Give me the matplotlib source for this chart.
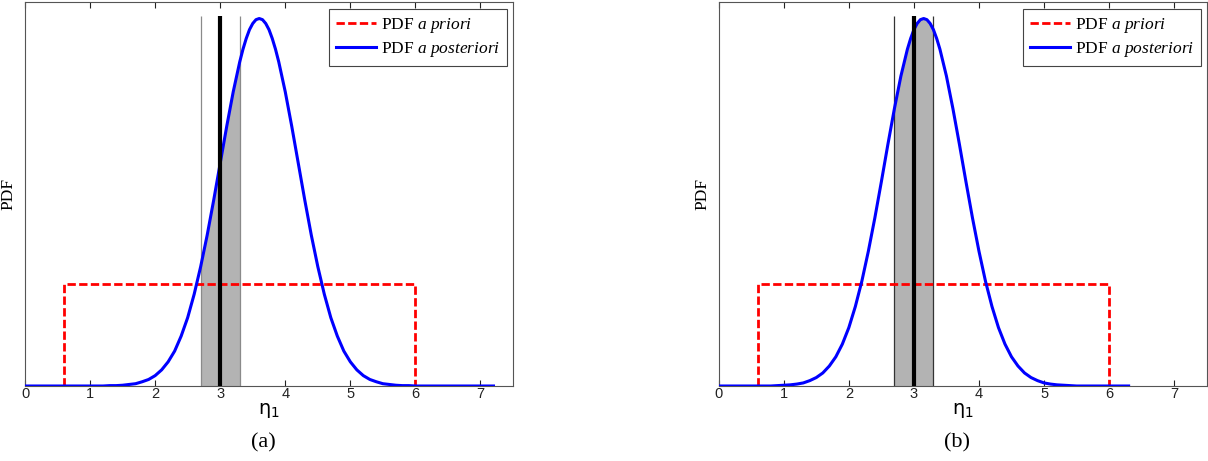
#!/usr/bin/env python3
"""Prior / posterior PDF comparison, panels (a) and (b)"""

import numpy as np
import matplotlib
matplotlib.use("Agg")
import matplotlib.pyplot as plt

plt.rcParams["mathtext.fontset"] = "custom"
plt.rcParams["mathtext.it"] = "Liberation Serif:italic"
plt.rcParams["mathtext.rm"] = "Liberation Serif"

# uniform prior
prior_x = [0.6, 0.6, 6.0, 6.0]
prior_y = [0.0, 0.266, 0.266, 0.0]

# panel (a) posterior
post_a_x = [0.0, 1.2, 1.3, 1.4, 1.5, 1.6, 1.7, 1.8, 1.9, 2.0, 2.1, 2.2, 2.3, 2.4,
            2.5, 2.6, 2.7, 2.8, 2.9, 3.0, 3.1, 3.2, 3.3, 3.35, 3.4, 3.45, 3.5,
            3.55, 3.6, 3.65, 3.7, 3.75, 3.8, 3.85, 3.9, 4.0, 4.1, 4.2, 4.3,
            4.4, 4.5, 4.6, 4.7, 4.8, 4.9, 5.0, 5.1, 5.2, 5.3, 5.4, 5.5, 5.6,
            5.7, 5.8, 5.9, 6.0, 7.2]
post_a_y = [0.0, 0.0, 0.001, 0.001, 0.002, 0.004, 0.006, 0.011, 0.017, 0.027,
            0.042, 0.063, 0.091, 0.130, 0.178, 0.239, 0.311, 0.393, 0.484,
            0.580, 0.676, 0.766, 0.844, 0.877, 0.905, 0.928, 0.944, 0.954,
            0.957, 0.954, 0.944, 0.928, 0.905, 0.877, 0.844, 0.766, 0.676,
            0.580, 0.484, 0.393, 0.311, 0.239, 0.178, 0.130, 0.091, 0.063,
            0.042, 0.027, 0.017, 0.011, 0.006, 0.004, 0.002, 0.001, 0.001,
            0.0, 0.0]

# panel (b) posterior
post_b_x = [0.0, 0.8, 0.9, 1.0, 1.1, 1.2, 1.3, 1.4, 1.5, 1.6, 1.7, 1.8, 1.9,
            2.0, 2.1, 2.2, 2.3, 2.4, 2.5, 2.6, 2.7, 2.8, 2.9, 2.95, 3.0, 3.05,
            3.1, 3.15, 3.2, 3.25, 3.3, 3.35, 3.4, 3.5, 3.6, 3.7, 3.8, 3.9,
            4.0, 4.1, 4.2, 4.3, 4.4, 4.5, 4.6, 4.7, 4.8, 4.9, 5.0, 5.1, 5.2,
            5.3, 5.4, 5.5, 6.3]
post_b_y = [0.0, 0.0, 0.001, 0.002, 0.003, 0.005, 0.008, 0.014, 0.022, 0.034,
            0.052, 0.076, 0.109, 0.152, 0.207, 0.273, 0.351, 0.438, 0.532,
            0.629, 0.722, 0.807, 0.877, 0.905, 0.928, 0.944, 0.954, 0.957,
            0.954, 0.944, 0.928, 0.905, 0.877, 0.807, 0.722, 0.629, 0.532,
            0.438, 0.351, 0.273, 0.207, 0.152, 0.109, 0.076, 0.052, 0.034,
            0.022, 0.014, 0.008, 0.005, 0.003, 0.002, 0.001, 0.0, 0.0]

ci_low, ci_mid, ci_high = 2.7, 3.0, 3.3
line_top = 0.964

panels = [
    ("(a)", post_a_x, post_a_y, "#8a8a8a"),
    ("(b)", post_b_x, post_b_y, "#333333"),
]

fig = plt.figure(figsize=(12.08, 4.61), dpi=100)
axes_rects = [
    [25 / 1208, 75 / 461, 488 / 1208, 384 / 461],
    [718.7 / 1208, 75 / 461, 488 / 1208, 384 / 461],
]

for rect, (tag, px, py, thin_col) in zip(axes_rects, panels):
    ax = fig.add_axes(rect)
    px = np.array(px)
    py = np.array(py)

    # shaded interval under the posterior
    m = (px >= ci_low - 1e-9) & (px <= ci_high + 1e-9)
    ax.fill_between(px[m], 0, py[m], color="#b3b3b3", lw=0, zorder=1)
    ax.vlines([ci_low, ci_high], 0, line_top, color=thin_col, lw=0.9, zorder=2)

    ax.plot(prior_x, prior_y, color="red", lw=2.0, ls=(0, (3, 1.2)),
            label="PDF $\\mathit{a\\ priori}$", zorder=3)
    ax.plot(px, py, color="blue", lw=2.2,
            label="PDF $\\mathit{a\\ posteriori}$", zorder=4)
    ax.vlines([ci_mid], 0, line_top, color="black", lw=3.0, zorder=5)

    ax.set_xlim(0, 7.5)
    ax.set_ylim(0, 1.0)
    ax.set_xticks(range(8))
    ax.set_yticks([])
    ax.tick_params(axis="x", direction="in", length=4, width=0.8, pad=1,
                   top=True, labelsize=10.5, colors="#222222")
    for lab in ax.get_xticklabels():
        lab.set_family("Liberation Sans")
    for s in ax.spines.values():
        s.set_linewidth(0.8)
        s.set_color("#555555")

    ax.set_xlabel("$\\mathregular{\\eta_1}$", family="DejaVu Sans",
                  math_fontfamily="dejavusans", fontsize=14, labelpad=0)
    ax.set_ylabel("PDF", family="Liberation Serif", fontsize=12.5)
    ax.yaxis.set_label_coords(-0.017, 0.5)

    leg = ax.legend(loc="upper right", bbox_to_anchor=(0.988, 0.982),
                    borderaxespad=0, fancybox=False, framealpha=1,
                    edgecolor="#444444", handlelength=2.3, handletextpad=0.3,
                    labelspacing=0.3, borderpad=0.4,
                    prop={"family": "Liberation Serif", "size": 12.5})
    leg.get_frame().set_linewidth(0.8)

    cx = rect[0] + rect[2] / 2 - 0.005
    fig.text(cx, 0.04, tag, ha="center", va="center",
             family="Liberation Serif", fontsize=16)

fig.savefig("out.png", dpi=100)
plt.close(fig)
